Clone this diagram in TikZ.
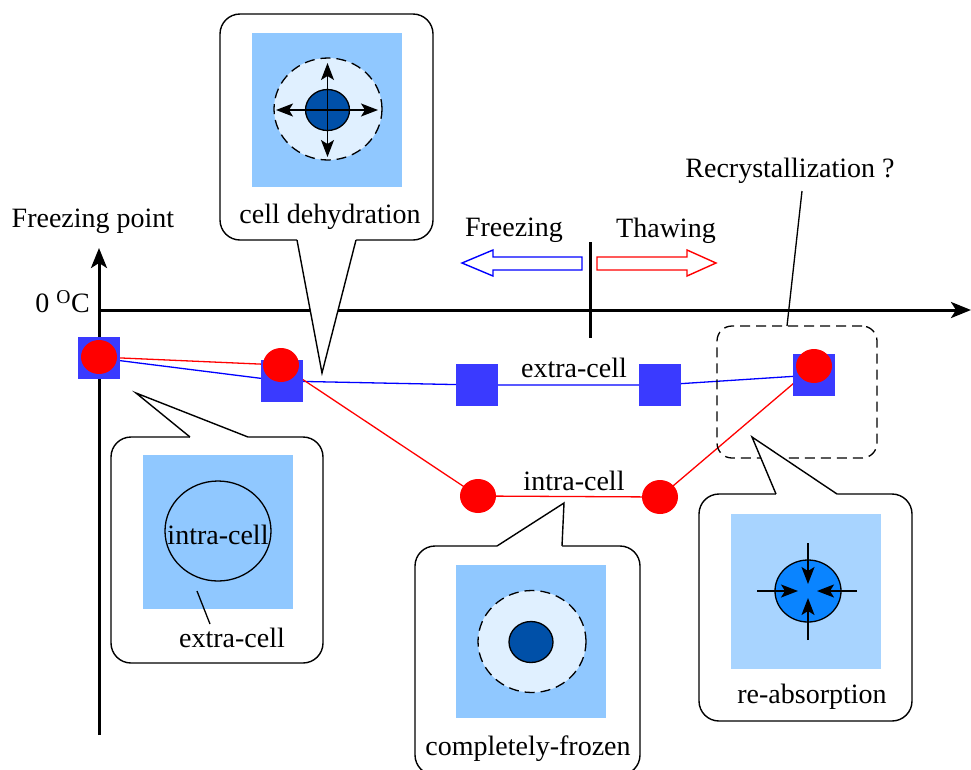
\documentclass[tikz,border=0pt]{standalone}
\usepackage{fontspec}
\setmainfont{Liberation Serif}
\usetikzlibrary{arrows.meta,shapes.geometric}
\definecolor{ptblue}{RGB}{58,58,255}
\definecolor{icebg}{RGB}{144,200,255}
\definecolor{icebglt}{RGB}{168,212,255}
\definecolor{cellpale}{RGB}{224,240,255}
\definecolor{celldark}{RGB}{0,80,168}
\definecolor{cellwet}{RGB}{10,132,255}
\pgfdeclarelayer{bg}
\pgfsetlayers{bg,main}

\begin{document}
\begin{tikzpicture}[x=1pt,y=-1pt,
  font=\fontsize{28}{32}\selectfont,
  lbl/.style={inner sep=0pt},
  axisline/.style={line width=3pt},
  axistip/.style={-{Stealth[length=20pt,width=16pt,inset=5pt]}},
  sqpt/.style={rectangle, fill=ptblue, minimum size=42pt, inner sep=0pt},
  rdpt/.style={ellipse, fill=red, minimum width=36pt, minimum height=34pt, inner sep=0pt},
  bluelink/.style={draw=blue, line width=1.3pt},
  redlink/.style={draw=red, line width=1.3pt},
  calloutbox/.style={rectangle, draw=black, line width=1.4pt, fill=white, rounded corners=20pt, inner sep=0pt},
  tailline/.style={draw=black, line width=1.4pt},
  icesquare/.style={rectangle, fill=icebg, minimum size=152pt, inner sep=0pt},
  cellzone/.style={ellipse, fill=cellpale, draw=black, dashed, dash pattern=on 10pt off 6pt, line width=1.3pt, minimum width=108pt, minimum height=102pt, inner sep=0pt},
  nucleus/.style={ellipse, fill=celldark, draw=black, line width=1.3pt, minimum width=44pt, minimum height=41pt, inner sep=0pt},
  flowarrow/.style={line width=1.4pt, -{Stealth[length=17pt,width=13pt,inset=4pt]}},
  hollowarrow/.style={line width=1.4pt, fill=white},
]
\useasboundingbox (0,0) rectangle (971,769);

% ---------- axes ----------
\coordinate (yfoot) at (99,735);
\coordinate (ytop) at (99,248);
\coordinate (xorig) at (99,310);
\coordinate (xend) at (971,310);
\draw[axisline,axistip] (yfoot) -- (ytop);
\draw[axisline,axistip] (xorig) -- (xend);
\coordinate (tickA) at (590,242);
\coordinate (tickB) at (590,338);
\draw[axisline] (tickA) -- (tickB);

\node[lbl] (fpoint) at (93,221.5) {Freezing point};
\node[lbl,anchor=east] (zeroC) at (90,302) {0 \textsuperscript{O}C};

% ---------- freezing / thawing direction ----------
\node[lbl] (freezeTxt) at (514,230.5) {Freezing};
\node[lbl] (thawTxt) at (666,230.5) {Thawing};
\draw[hollowarrow, draw=blue] (582,257) -- (493,257) -- (493,250) -- (462,263)
  -- (493,276) -- (493,270) -- (582,270) -- cycle;
\draw[hollowarrow, draw=red] (597,257) -- (687,257) -- (687,250) -- (716,263)
  -- (687,276) -- (687,270) -- (597,270) -- cycle;

% ---------- recrystallization zone ----------
\node[rectangle, draw=black, dashed, dash pattern=on 10pt off 6pt, line width=1.3pt,
      rounded corners=15pt, minimum width=160pt, minimum height=132pt, inner sep=0pt]
      (zone) at (797,392) {};
\node[lbl] (recTxt) at (790,171) {Recrystallization ?};
\coordinate (recA) at (802,191);
\coordinate (recB) at (787,326);
\draw[line width=1.3pt] (recA) -- (recB);

% ---------- data points ----------
\node[sqpt] (sq1) at (99,358) {};
\node[sqpt] (sq2) at (282,381) {};
\node[sqpt] (sq3) at (477,385) {};
\node[sqpt] (sq4) at (660,385) {};
\node[sqpt] (sq5) at (814,375) {};
\node[rdpt] (rc1) at (99,357) {};
\node[rdpt] (rc2) at (281,365) {};
\node[rdpt] (rc3) at (478,496) {};
\node[rdpt] (rc4) at (660,497) {};
\node[rdpt] (rc5) at (814,366) {};

\begin{pgfonlayer}{bg}
  \draw[bluelink] (sq1.center) -- (sq2.center) -- (sq3.center) -- (sq4.center) -- (sq5.center);
  \draw[redlink] (rc1.center) -- (rc2.center) -- (rc3.center) -- (rc4.center) -- (rc5.center);
\end{pgfonlayer}

\node[lbl] (extraTxt) at (574,368) {extra-cell};
\node[lbl] (intraTxt) at (574,480.5) {intra-cell};

% ---------- callout: cell dehydration ----------
\node[calloutbox, minimum width=213pt, minimum height=226pt] (cbA) at (326.5,127) {};
\coordinate (tA1) at (297,240);
\coordinate (tA2) at (322,373);
\coordinate (tA3) at (356,240);
\fill[white] ([yshift=3pt]tA1) -- (tA1) -- (tA2) -- (tA3) -- ([yshift=3pt]tA3) -- cycle;
\draw[tailline] (tA1) -- (tA2) -- (tA3);
\node[icesquare, minimum width=150pt, minimum height=154pt] (iceA) at (327,110) {};
\node[cellzone] (zoneA) at (328,109) {};
\node[nucleus] (nucA) at (327.5,110) {};
\coordinate (aL) at (276,110);
\coordinate (aR) at (378,110);
\coordinate (aU) at (327.5,63);
\coordinate (aD) at (327.5,157);
\draw[flowarrow] (nucA.center) -- (aL);
\draw[flowarrow] (nucA.center) -- (aR);
\draw[flowarrow] (nucA.center) -- (aU);
\draw[flowarrow] (nucA.center) -- (aD);
\node[lbl] (dehydTxt) at (330,216.5) {cell dehydration};

% ---------- callout: intra / extra cell ----------
\node[calloutbox, minimum width=212pt, minimum height=226pt] (cbB) at (217,550) {};
\coordinate (tB1) at (190,437);
\coordinate (tB2) at (136,393);
\coordinate (tB3) at (248,437);
\fill[white] ([yshift=-3pt]tB1) -- (tB1) -- (tB2) -- (tB3) -- ([yshift=-3pt]tB3) -- cycle;
\draw[tailline] (tB1) -- (tB2) -- (tB3);
\node[icesquare, minimum width=150pt, minimum height=154pt] (iceB) at (218,532) {};
\node[ellipse, draw=black, line width=1.3pt, minimum width=106pt, minimum height=100pt, inner sep=0pt] (cellB) at (218,531) {};
\node[lbl] (intraB) at (218,535) {intra-cell};
\node[lbl] (extraB) at (232,637.5) {extra-cell};
\coordinate (pB1) at (197,591);
\coordinate (pB2) at (210,624);
\draw[line width=1.3pt] (pB1) -- (pB2);

% ---------- callout: completely frozen ----------
\node[calloutbox, minimum width=225pt, minimum height=229pt] (cbC) at (527.5,660.5) {};
\coordinate (tC1) at (497,546);
\coordinate (tC2) at (564,503);
\coordinate (tC3) at (562,546);
\fill[white] ([yshift=-3pt]tC1) -- (tC1) -- (tC2) -- (tC3) -- ([yshift=-3pt]tC3) -- cycle;
\draw[tailline] (tC1) -- (tC2) -- (tC3);
\node[icesquare, minimum width=150pt, minimum height=153pt] (iceC) at (531,641.5) {};
\node[cellzone] (zoneC) at (532,641.5) {};
\node[nucleus] (nucC) at (531,642) {};
\node[lbl] (frozenTxt) at (528,748.5) {completely-frozen};

% ---------- callout: re-absorption ----------
\node[calloutbox, minimum width=213pt, minimum height=227pt] (cbD) at (805.5,607.5) {};
\coordinate (tD1) at (776,494);
\coordinate (tD2) at (752,437);
\coordinate (tD3) at (837,494);
\fill[white] ([yshift=-3pt]tD1) -- (tD1) -- (tD2) -- (tD3) -- ([yshift=-3pt]tD3) -- cycle;
\draw[tailline] (tD1) -- (tD2) -- (tD3);
\node[rectangle, fill=icebglt, minimum width=150pt, minimum height=155pt, inner sep=0pt] (iceD) at (806,591) {};
\node[ellipse, fill=cellwet, draw=black, line width=1.3pt, minimum width=66pt, minimum height=62pt, inner sep=0pt] (cellD) at (808,591) {};
\coordinate (dU) at (808,543);
\coordinate (dD) at (808,640);
\coordinate (dL) at (757,591);
\coordinate (dR) at (857,591);
\coordinate (dUt) at (808,584);
\coordinate (dDt) at (808,598);
\coordinate (dLt) at (798,591);
\coordinate (dRt) at (817,591);
\draw[flowarrow] (dU) -- (dUt);
\draw[flowarrow] (dD) -- (dDt);
\draw[flowarrow] (dL) -- (dLt);
\draw[flowarrow] (dR) -- (dRt);
\node[lbl] (reabsTxt) at (812,696.5) {re-absorption};
\end{tikzpicture}
\end{document}
